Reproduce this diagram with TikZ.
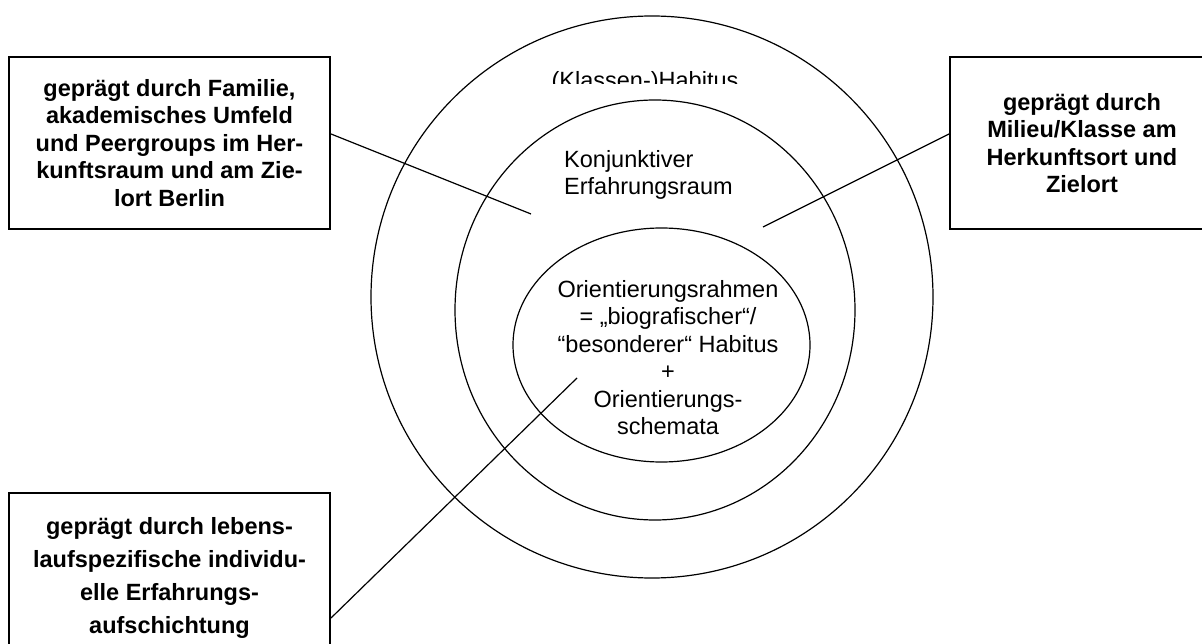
\documentclass[tikz,border=0pt]{standalone}
\usepackage{fontspec}
\setmainfont{Liberation Sans}
\usetikzlibrary{positioning, calc}

\begin{document}
\begin{tikzpicture}[x=1pt, y=-1pt, font=\fontsize{23.5}{27.5}\selectfont,
  ring/.style={line width=1.2pt},
  link/.style={line width=1.2pt},
  infobox/.style={draw, line width=2pt, fill=white, align=center, font=\bfseries\fontsize{23.5}{27.5}\selectfont},
  label/.style={inner sep=0pt}]
\useasboundingbox (0,0) rectangle (1202,644);
\clip (0,0) rectangle (1202,644);
\fill[white] (0,0) rectangle (1202,644);

\draw[ring] (652,297) circle[radius=281];
\draw[ring] (655,310) ellipse[x radius=200, y radius=210];
\draw[ring] (661.5,345) ellipse[x radius=148.5, y radius=117];

\begin{scope}
\clip (500,50) rectangle (800,83.5);
\node[label, anchor=base] (habitus) at (645,89) {(Klassen-)Habitus};
\end{scope}
\node[label, anchor=north west, align=left] (raum) at (564,150) {Konjunktiver\\Erfahrungsraum};
\node[label, anchor=north, align=center] (rahmen) at (668,280) {Orientierungsrahmen\\= „biografischer“/\\“besonderer“ Habitus\\+\\Orientierungs-\\schemata};

\coordinate (kfr) at (531,214);
\coordinate (mil) at (763,227);
\coordinate (orr) at (577,378);

\node[infobox, minimum width=321pt, minimum height=172pt] (familie) at (169.5,143) {geprägt durch Familie,\\akademisches Umfeld\\und Peergroups im Her-\\kunftsraum und am Zie-\\lort Berlin};
\node[infobox, minimum width=264pt, minimum height=172pt] (milieu) at (1082,143) {geprägt durch\\Milieu/Klasse am\\Herkunftsort und\\Zielort};
\node[infobox, minimum width=321pt, minimum height=169pt, font=\bfseries\fontsize{23.5}{33}\selectfont] (lebenslauf) at (169.5,577.5) {geprägt durch lebens-\\laufspezifische individu-\\elle Erfahrungs-\\aufschichtung};

\draw[link] ([yshift=9pt] familie.east) -- (kfr);
\draw[link] ([yshift=9pt] milieu.west) -- (mil);
\draw[link] ([yshift=-40.5pt] lebenslauf.east) -- (orr);
\end{tikzpicture}
\end{document}
